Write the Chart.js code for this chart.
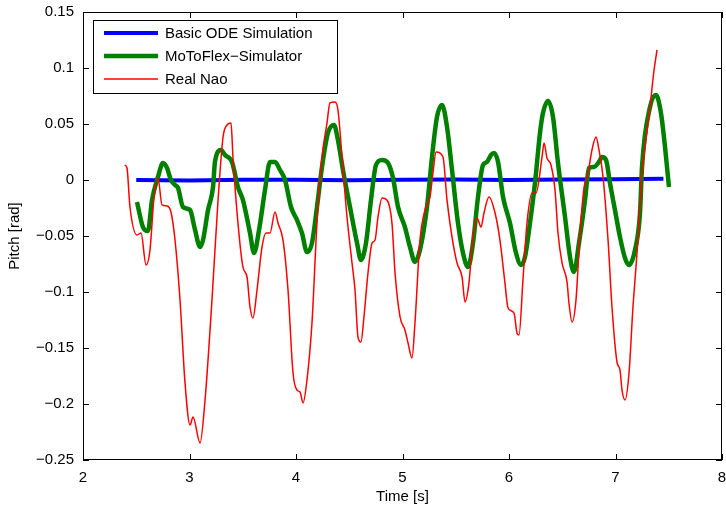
<!DOCTYPE html>
<html>
<head>
<meta charset="utf-8">
<script src="https://cdn.jsdelivr.net/npm/chart.js@4.4.1/dist/chart.umd.min.js"></script>
<style>
  html, body { margin: 0; padding: 0; background: #ffffff; }
  #wrap { width: 726px; height: 510px; }
</style>
</head>
<body>
<div id="wrap"><canvas id="c" width="726" height="510"></canvas></div>
<script>
// ---- data ----
const seriesLabels = ["Basic ODE Simulation", "MoToFlex\u2212Simulator", "Real Nao"];
const xTicks = [2, 3, 4, 5, 6, 7, 8];
const yTicks = [-0.25, -0.2, -0.15, -0.1, -0.05, 0, 0.05, 0.1, 0.15];

const odeT = [2.5, 3.0, 3.5, 4.0, 4.5, 5.0, 5.5, 6.0, 6.5, 7.0, 7.45];
const odeV = [0.0, -0.0004, 0.0002, 0.0003, -0.0002, 0.0002, 0.0004, 0.0001, 0.0005, 0.0006, 0.0012];

const motoT = [2.507,2.563,2.610,2.648,2.704,2.751,2.789,2.826,2.864,2.892,2.939,3.005,3.052,3.099,3.127,3.174,3.221,3.239,3.296,3.333,3.399,3.455,3.502,3.568,3.606,3.653,3.709,3.756,3.803,3.850,3.897,3.953,4.009,4.056,4.103,4.150,4.197,4.244,4.300,4.357,4.394,4.441,4.507,4.573,4.610,4.657,4.704,4.751,4.808,4.864,4.911,4.958,5.023,5.070,5.117,5.164,5.230,5.277,5.324,5.371,5.418,5.465,5.521,5.568,5.615,5.662,5.709,5.756,5.793,5.831,5.859,5.897,5.944,6.009,6.066,6.113,6.150,6.197,6.244,6.291,6.319,6.366,6.413,6.460,6.526,6.573,6.610,6.657,6.714,6.751,6.798,6.845,6.873,6.911,6.948,6.995,7.042,7.089,7.127,7.183,7.230,7.249,7.324,7.380,7.427,7.465,7.502];
const motoV = [-0.0196,-0.0420,-0.0455,-0.0179,0.0027,0.0152,0.0107,0.0000,-0.0045,-0.0071,-0.0241,-0.0268,-0.0446,-0.0598,-0.0536,-0.0268,-0.0063,0.0161,0.0268,0.0223,0.0161,-0.0063,-0.0179,-0.0473,-0.0652,-0.0446,-0.0089,0.0161,0.0161,0.0089,0.0000,-0.0241,-0.0357,-0.0473,-0.0643,-0.0563,-0.0241,0.0116,0.0420,0.0491,0.0357,0.0089,-0.0241,-0.0563,-0.0714,-0.0563,-0.0179,0.0134,0.0179,0.0152,0.0018,-0.0241,-0.0420,-0.0598,-0.0732,-0.0625,-0.0241,0.0205,0.0563,0.0670,0.0473,0.0089,-0.0384,-0.0652,-0.0777,-0.0563,-0.0152,0.0134,0.0161,0.0223,0.0241,0.0161,-0.0152,-0.0384,-0.0652,-0.0759,-0.0688,-0.0384,-0.0027,0.0420,0.0598,0.0705,0.0563,0.0152,-0.0330,-0.0688,-0.0821,-0.0563,-0.0179,0.0107,0.0116,0.0161,0.0205,0.0179,-0.0027,-0.0268,-0.0509,-0.0696,-0.0759,-0.0625,-0.0295,0.0116,0.0652,0.0759,0.0598,0.0295,-0.0063];

const naoT = [2.394,2.413,2.441,2.507,2.545,2.592,2.629,2.667,2.704,2.742,2.789,2.826,2.864,2.911,2.958,3.005,3.033,3.099,3.146,3.211,3.268,3.315,3.352,3.390,3.408,3.455,3.502,3.540,3.568,3.596,3.634,3.681,3.718,3.756,3.803,3.831,3.878,3.925,3.972,4.009,4.038,4.066,4.103,4.150,4.197,4.244,4.291,4.319,4.366,4.394,4.432,4.479,4.526,4.554,4.582,4.610,4.638,4.676,4.714,4.742,4.770,4.808,4.854,4.901,4.930,4.977,5.023,5.052,5.089,5.117,5.164,5.211,5.258,5.286,5.315,5.380,5.418,5.465,5.512,5.559,5.587,5.624,5.662,5.700,5.737,5.765,5.812,5.869,5.915,5.962,5.991,6.047,6.075,6.094,6.131,6.169,6.216,6.254,6.310,6.329,6.357,6.394,6.432,6.460,6.498,6.545,6.563,6.592,6.629,6.667,6.704,6.742,6.779,6.817,6.845,6.883,6.930,6.967,7.014,7.042,7.061,7.089,7.127,7.164,7.211,7.249,7.277,7.324,7.362,7.390];
const naoV = [0.0134,0.0107,-0.0241,-0.0491,-0.0473,-0.0759,-0.0625,-0.0152,0.0018,-0.0223,-0.0232,-0.0286,-0.0536,-0.1071,-0.1813,-0.2188,-0.2116,-0.2348,-0.1964,-0.1071,-0.0179,0.0384,0.0491,0.0509,0.0205,-0.0384,-0.0777,-0.0866,-0.1134,-0.1232,-0.0982,-0.0598,-0.0473,-0.0473,-0.0286,-0.0384,-0.0536,-0.0982,-0.1723,-0.1875,-0.1893,-0.1991,-0.1786,-0.1277,-0.0384,0.0205,0.0509,0.0688,0.0696,0.0625,0.0205,-0.0330,-0.0741,-0.0982,-0.1402,-0.1446,-0.1223,-0.0830,-0.0563,-0.0536,-0.0330,-0.0161,-0.0179,-0.0384,-0.0830,-0.1223,-0.1339,-0.1455,-0.1589,-0.1277,-0.0536,-0.0268,-0.0152,0.0063,0.0250,0.0205,-0.0179,-0.0509,-0.0741,-0.0866,-0.1089,-0.0920,-0.0509,-0.0339,-0.0420,-0.0295,-0.0152,-0.0295,-0.0536,-0.0920,-0.1143,-0.1188,-0.1366,-0.1384,-0.0893,-0.0384,-0.0116,-0.0116,0.0205,0.0330,0.0196,0.0134,-0.0089,-0.0473,-0.0741,-0.0911,-0.1098,-0.1268,-0.1071,-0.0473,-0.0071,0.0063,0.0268,0.0384,0.0268,0.0027,-0.0536,-0.1134,-0.1625,-0.1696,-0.1875,-0.1964,-0.1723,-0.1134,-0.0536,0.0063,0.0295,0.0652,0.0982,0.1161];

const xTitle = "Time [s]";
const yTitle = "Pitch [rad]";

// ---- helpers ----
const pts = (t, v) => t.map((x, i) => ({ x: x, y: v[i] }));
const fmt = (v) => {
  const r = Math.round(v * 100) / 100;
  const s = String(Math.abs(r));
  return (r < 0 ? "\u2212" : "") + s;
};

const FONT = "'Liberation Sans', Arial, Helvetica, sans-serif";

// Frame, inward ticks and legend
const framePlugin = {
  id: 'frame',
  afterDatasetsDraw(chart) {
    const { ctx, chartArea: a, scales } = chart;
    ctx.save();
    ctx.strokeStyle = '#000';
    ctx.lineWidth = 1;
    const tl = 6;
    ctx.beginPath();
    xTicks.forEach(v => {
      const px = Math.round(scales.x.getPixelForValue(v)) + 0.5;
      ctx.moveTo(px, a.bottom); ctx.lineTo(px, a.bottom - tl);
      ctx.moveTo(px, a.top); ctx.lineTo(px, a.top + tl);
    });
    yTicks.forEach(v => {
      const py = Math.round(scales.y.getPixelForValue(v)) + 0.5;
      ctx.moveTo(a.left, py); ctx.lineTo(a.left + tl, py);
      ctx.moveTo(a.right, py); ctx.lineTo(a.right - tl, py);
    });
    ctx.stroke();
    ctx.strokeRect(Math.round(a.left) + 0.5, Math.round(a.top) + 0.5,
                   Math.round(a.right - a.left) - 1, Math.round(a.bottom - a.top) - 1);

    // legend
    const bx = a.left + 10, by = a.top + 8, bw = 244, bh = 73;
    ctx.fillStyle = '#fff';
    ctx.fillRect(bx, by, bw, bh);
    ctx.lineWidth = 1;
    ctx.strokeRect(Math.round(bx) + 0.5, Math.round(by) + 0.5, bw, bh);
    ctx.font = '15px ' + FONT;
    ctx.textBaseline = 'middle';
    ctx.textAlign = 'left';
    chart.data.datasets.forEach((ds, i) => {
      const y = by + 13 + i * 23;
      ctx.strokeStyle = ds.borderColor;
      ctx.lineWidth = ds.borderWidth;
      ctx.beginPath();
      ctx.moveTo(bx + 11, y); ctx.lineTo(bx + 65, y);
      ctx.stroke();
      ctx.fillStyle = '#000';
      ctx.fillText(ds.label, bx + 72, y + 1);
    });
    ctx.restore();
  }
};

new Chart(document.getElementById('c'), {
  type: 'line',
  data: {
    datasets: [
      { label: seriesLabels[0], data: pts(odeT, odeV), borderColor: '#0000ff', borderWidth: 4, order: 3 },
      { label: seriesLabels[1], data: pts(motoT, motoV), borderColor: '#008000', borderWidth: 4.5, order: 2, cubicInterpolationMode: 'monotone' },
      { label: seriesLabels[2], data: pts(naoT, naoV), borderColor: '#ff0000', borderWidth: 1.5, order: 1, cubicInterpolationMode: 'monotone' }
    ]
  },
  options: {
    responsive: false,
    animation: false,
    devicePixelRatio: 1,
    elements: { point: { radius: 0 }, line: { tension: 0, fill: false, borderJoinStyle: 'round', borderCapStyle: 'butt' } },
    layout: { autoPadding: false, padding: { left: 0, right: 4, top: 12, bottom: 0 } },
    plugins: { legend: { display: false }, tooltip: { enabled: false } },
    scales: {
      x: {
        type: 'linear', min: 2, max: 8,
        afterBuildTicks: s => { s.ticks = xTicks.map(v => ({ value: v })); },
        afterFit: s => { s.height = 50; s.paddingLeft = 0; s.paddingRight = 0; s.paddingTop = 0; s.paddingBottom = 0; },
        grid: { display: false, drawTicks: false },
        border: { display: false },
        ticks: { color: '#000', font: { size: 15, family: FONT }, padding: 9, maxRotation: 0, callback: v => fmt(v) },
        title: { display: true, text: xTitle, color: '#000', font: { size: 15, family: FONT }, padding: { top: 0, bottom: 4 } }
      },
      y: {
        type: 'linear', min: -0.25, max: 0.15,
        afterBuildTicks: s => { s.ticks = yTicks.map(v => ({ value: v })); },
        afterFit: s => { s.width = 83; s.paddingLeft = 0; s.paddingRight = 0; s.paddingTop = 0; s.paddingBottom = 0; },
        grid: { display: false, drawTicks: false },
        border: { display: false },
        ticks: { color: '#000', font: { size: 15, family: FONT }, padding: 9, callback: v => fmt(v) },
        title: { display: true, text: yTitle, color: '#000', font: { size: 15, family: FONT }, padding: { top: 6, bottom: 0 } }
      }
    }
  },
  plugins: [framePlugin]
});
</script>
</body>
</html>
